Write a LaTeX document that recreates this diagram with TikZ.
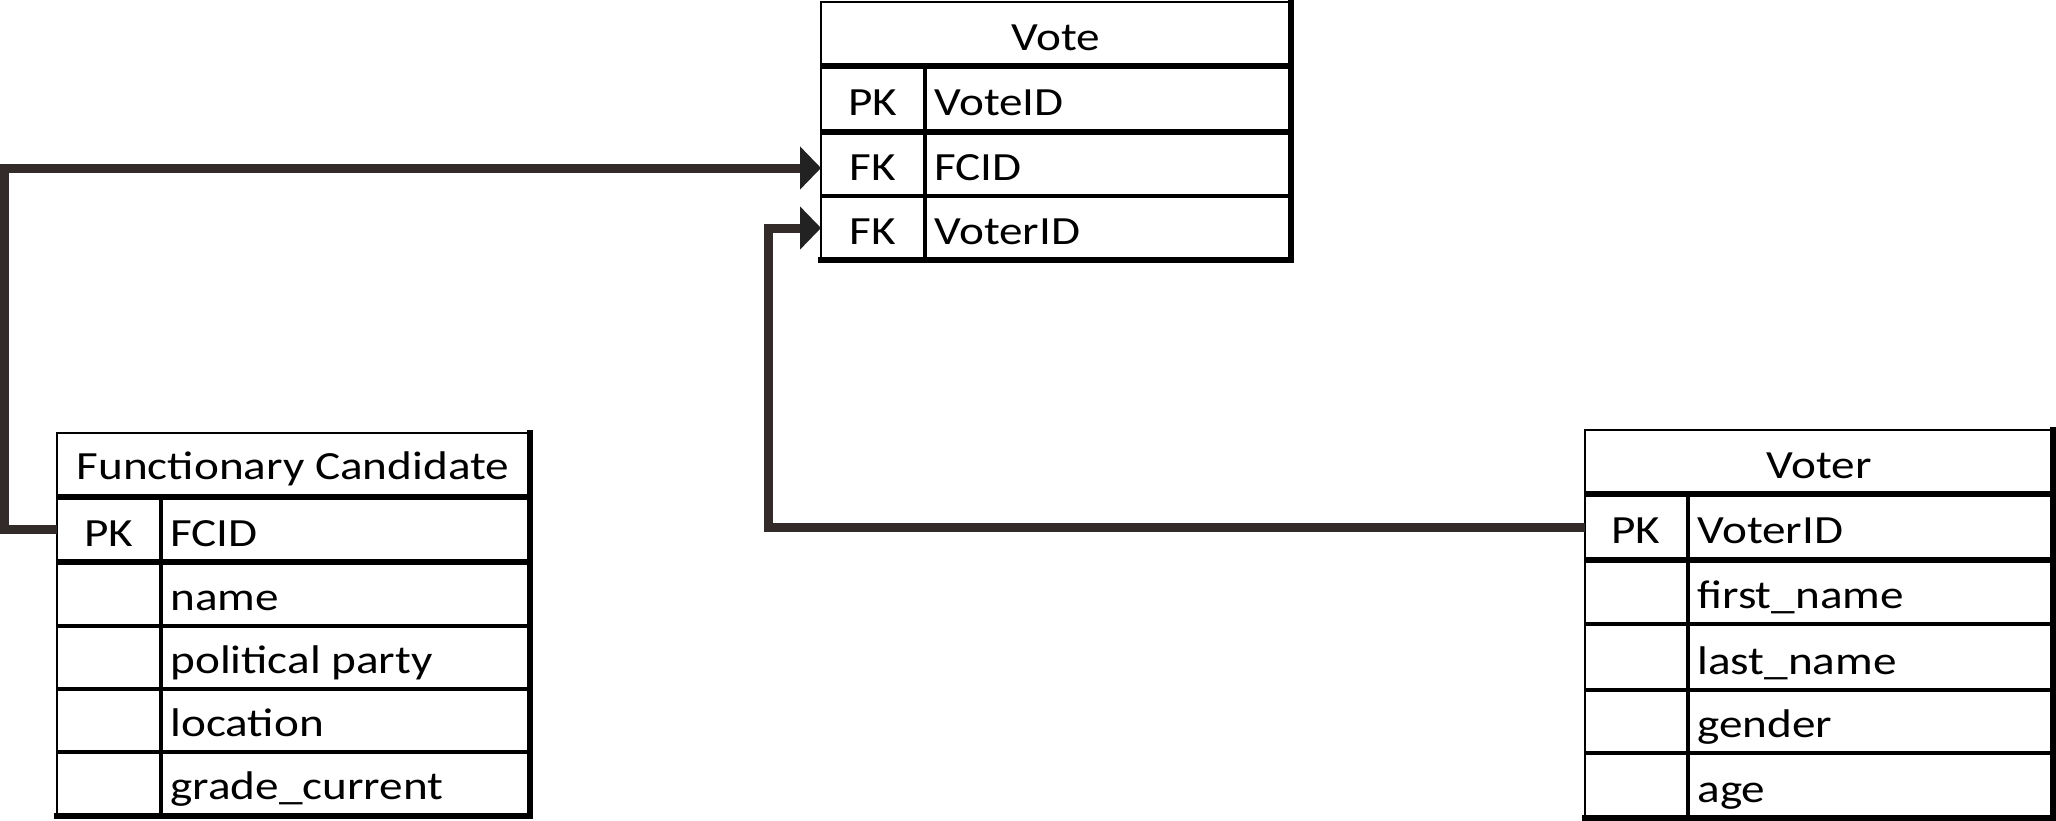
\documentclass[tikz,border=0pt]{standalone}
\usepackage{fontspec}
\setmainfont{Carlito}[FakeStretch=1.18]
\usetikzlibrary{arrows.meta}
\definecolor{conn}{HTML}{332B2A}
\definecolor{tipc}{HTML}{222222}
\begin{document}
\begin{tikzpicture}[x=0.5pt,y=-0.5pt,
  txt/.style={font=\fontsize{20pt}{24pt}\selectfont, inner sep=0pt, anchor=base},
  fld/.style={txt, anchor=base west},
  rowbox/.style={inner sep=0pt, outer sep=0pt, anchor=north west, minimum width=#1},
  thinb/.style={line width=1.25pt, line cap=rect},
  thickb/.style={line width=2.6pt, line cap=rect},
  septhick/.style={line width=3pt},
  septhin/.style={line width=1.7pt},
  divl/.style={line width=1.6pt},
  connector/.style={draw=conn, line width=4.5pt, line join=miter,
    -{Triangle[length=10.5pt, width=21pt, color=tipc, fill=tipc]}},
  connplain/.style={draw=conn, line width=4.5pt, line join=miter}]
\useasboundingbox (0,0) rectangle (2056,820);

% ---------- Vote ----------
\draw[thinb] (821,260) -- (821,2) -- (1291,2);
\draw[thickb] (1291,2) -- (1291,260) -- (821,260);
\draw[septhick] (821,66) -- (1291,66);
\draw[septhick] (821,132) -- (1291,132);
\draw[septhin] (821,196) -- (1291,196);
\draw[divl] (925,66) -- (925,260);
\node[rowbox=235pt, minimum height=32pt] (votepk) at (821,66) {};
\node[rowbox=235pt, minimum height=32pt] (votefk1) at (821,132) {};
\node[rowbox=235pt, minimum height=32pt] (votefk2) at (821,196) {};
\node[txt] (votet) at (1056,50) {Vote};
\node[txt] (votek1) at (873,115) {PK};
\node[fld] (votef1) at (934,115) {VoteID};
\node[txt] (votek2) at (873,180) {FK};
\node[fld] (votef2) at (934,180) {FCID};
\node[txt] (votek3) at (873,244) {FK};
\node[fld] (votef3) at (934,244) {VoterID};

% ---------- Functionary Candidate ----------
\draw[thinb] (57,816) -- (57,433) -- (530,433);
\draw[thickb] (530,433) -- (530,816) -- (57,816);
\draw[septhick] (57,497) -- (530,497);
\draw[septhick] (57,562) -- (530,562);
\draw[septhin] (57,626) -- (530,626);
\draw[septhin] (57,689) -- (530,689);
\draw[septhin] (57,752) -- (530,752);
\draw[divl] (161,497) -- (161,816);
\node[rowbox=236.5pt, minimum height=32.5pt] (fcpk) at (57,497) {};
\node[txt] (fct) at (293,479) {Functionary Candidate};
\node[txt] (fck1) at (109,546) {PK};
\node[fld] (fcf1) at (170,546) {FCID};
\node[fld] (fcf2) at (170,610) {name};
\node[fld] (fcf3) at (170,673) {political party};
\node[fld] (fcf4) at (170,736) {location};
\node[fld] (fcf5) at (170,799) {grade\_current};

% ---------- Voter ----------
\draw[thinb] (1585,818) -- (1585,430) -- (2053,430);
\draw[thickb] (2053,430) -- (2053,818) -- (1585,818);
\draw[septhick] (1585,494) -- (2053,494);
\draw[septhick] (1585,560) -- (2053,560);
\draw[septhin] (1585,624) -- (2053,624);
\draw[septhin] (1585,690) -- (2053,690);
\draw[septhin] (1585,753) -- (2053,753);
\draw[divl] (1688,494) -- (1688,818);
\node[rowbox=234pt, minimum height=33pt] (voterpk) at (1585,494) {};
\node[txt] (votert) at (1819,478) {Voter};
\node[txt] (voterk1) at (1636,543) {PK};
\node[fld] (voterf1) at (1697,543) {VoterID};
\node[fld] (voterf2) at (1697,608) {first\_name};
\node[fld] (voterf3) at (1697,674) {last\_name};
\node[fld] (voterf4) at (1697,737) {gender};
\node[fld] (voterf5) at (1697,802) {age};

% ---------- connectors ----------
\coordinate (lx) at (4.5,0);
\coordinate (mx) at (768,0);
\draw[connector] (fcpk.west) -- (fcpk.west -| lx) |- ([yshift=-2pt]votefk1.west);
\draw[connector] (voterpk.west) -- (voterpk.west -| mx) |- (votefk2.west);
\end{tikzpicture}
\end{document}
